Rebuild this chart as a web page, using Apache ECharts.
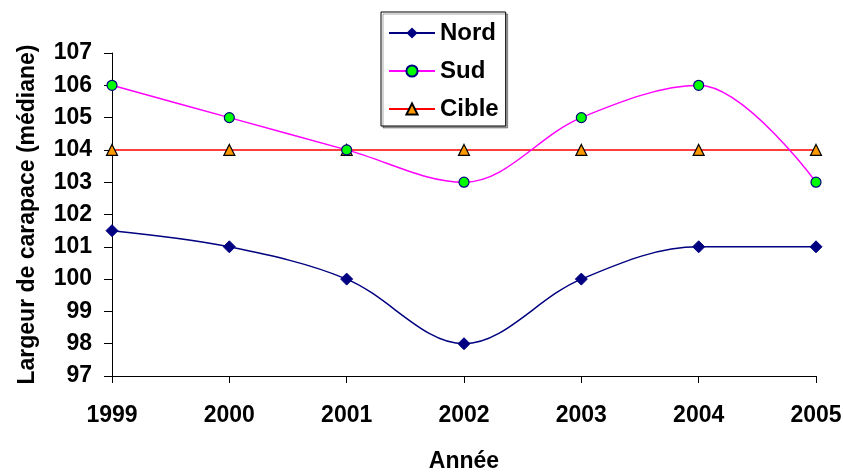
<!DOCTYPE html>
<html>
<head>
<meta charset="utf-8">
<script src="https://cdn.jsdelivr.net/npm/echarts@6/dist/echarts.min.js"></script>
<style>
  html, body { margin: 0; padding: 0; background: #fff; }
  #main { width: 844px; height: 474px; }
</style>
</head>
<body>
<div id="main"></div>
<script>
var annees = ['1999', '2000', '2001', '2002', '2003', '2004', '2005'];
var nord = [101.5, 101, 100, 98, 100, 101, 101];
var sud = [106, 105, 104, 103, 105, 106, 103];
var cible = [104, 104, 104, 104, 104, 104, 104];

var chart = echarts.init(document.getElementById('main'));
var font = 'Liberation Sans, Arial, sans-serif';

var option = {
    backgroundColor: '#ffffff',
    animation: false,
    grid: { left: 112, right: 28, top: 53, bottom: 98, containLabel: false, outerBoundsMode: 'none' },
    legend: {
        orient: 'vertical',
        left: 381,
        top: 12,
        padding: [9, 7, 5, 7],
        itemGap: 14,
        itemWidth: 46,
        itemHeight: 14,
        borderColor: '#000',
        borderWidth: 1,
        shadowColor: 'rgba(0,0,0,0.35)',
        shadowOffsetX: 2,
        shadowOffsetY: 2,
        backgroundColor: '#fff',
        textStyle: { fontFamily: font, fontWeight: 'bold', fontSize: 24, lineHeight: 24, color: '#000' },
        data: ['Nord', 'Sud', 'Cible']
    },
    xAxis: {
        type: 'category',
        data: annees,
        boundaryGap: false,
        name: 'Année',
        nameLocation: 'middle',
        nameGap: 74,
        nameTextStyle: { fontFamily: font, fontWeight: 'bold', fontSize: 23, color: '#000' },
        axisLine: { lineStyle: { color: '#000', width: 1 } },
        axisTick: { show: true, inside: false, length: 7, alignWithLabel: true, lineStyle: { color: '#000' } },
        axisLabel: { fontFamily: font, fontWeight: 'bold', fontSize: 23, color: '#000', margin: 28 },
        splitLine: { show: false }
    },
    yAxis: {
        type: 'value',
        min: 97,
        max: 107,
        interval: 1,
        name: 'Largeur de carapace (médiane)',
        nameLocation: 'middle',
        nameGap: 73,
        nameTextStyle: { fontFamily: font, fontWeight: 'bold', fontSize: 23, color: '#000' },
        axisLine: { show: true, lineStyle: { color: '#000', width: 1 } },
        axisTick: { show: true, length: 8, lineStyle: { color: '#000' } },
        axisLabel: { fontFamily: font, fontWeight: 'bold', fontSize: 23, color: '#000', margin: 20 },
        splitLine: { show: false }
    },
    series: [
        {
            name: 'Nord',
            type: 'line',
            data: nord,
            smooth: 0.35,
            symbol: 'diamond',
            symbolSize: 12,
            lineStyle: { color: '#000080', width: 1.5 },
            itemStyle: { color: '#000080', borderColor: '#000080' }
        },
        {
            name: 'Sud',
            type: 'line',
            data: sud,
            smooth: 0.35,
            symbol: 'circle',
            symbolSize: 10,
            lineStyle: { color: '#ff00ff', width: 1.5 },
            itemStyle: { color: '#00ff00', borderColor: '#000080', borderWidth: 1.2 }
        },
        {
            name: 'Cible',
            type: 'line',
            data: cible,
            symbol: 'triangle',
            symbolSize: 11,
            lineStyle: { color: '#ff0000', width: 1.5 },
            itemStyle: { color: '#ff9900', borderColor: '#000', borderWidth: 1.2 },
            z: 1
        }
    ]
};

chart.setOption(option);
</script>
</body>
</html>
